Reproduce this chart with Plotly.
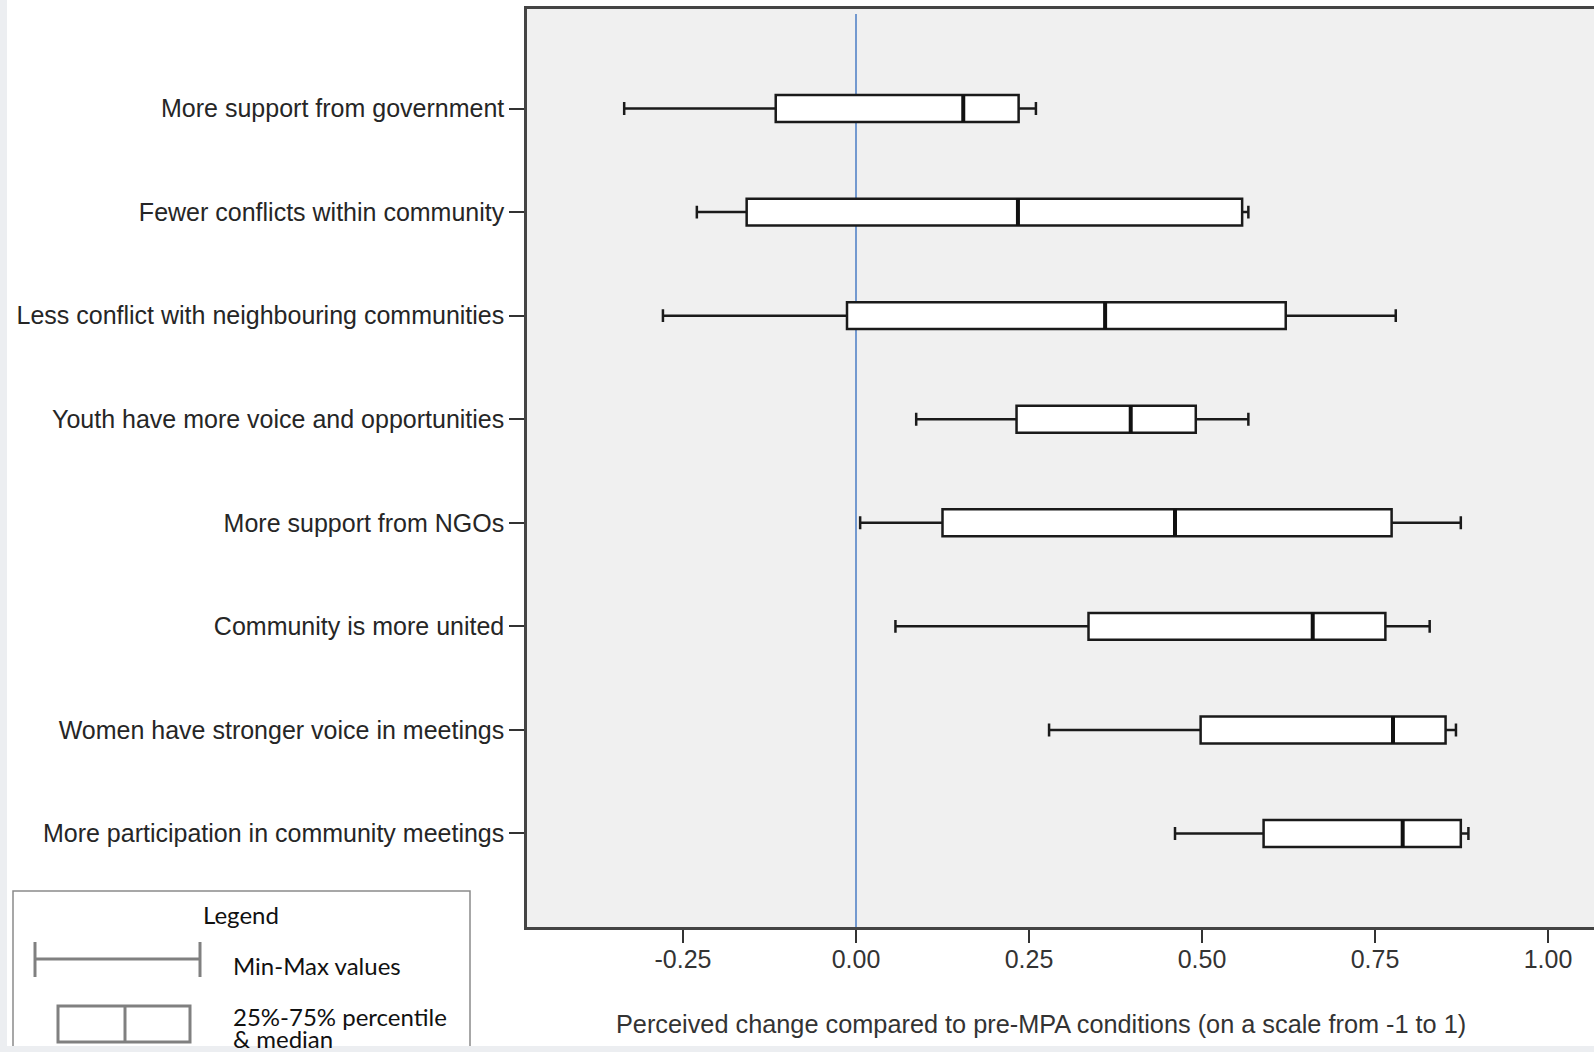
import plotly.graph_objects as go

# ---------------- data ----------------
categories = [
    "More support from government",
    "Fewer conflicts within community",
    "Less conflict with neighbouring communities",
    "Youth have more voice and opportunities",
    "More support from NGOs",
    "Community is more united",
    "Women have stronger voice in meetings",
    "More participation in community meetings",
]
mins    = [-0.335, -0.230, -0.279, 0.087, 0.006, 0.057, 0.279, 0.461]
q1s     = [-0.116, -0.158, -0.013, 0.232, 0.125, 0.336, 0.498, 0.589]
medians = [0.155, 0.234, 0.360, 0.397, 0.461, 0.660, 0.776, 0.790]
q3s     = [0.235, 0.558, 0.621, 0.491, 0.774, 0.765, 0.852, 0.874]
maxs    = [0.260, 0.567, 0.780, 0.567, 0.874, 0.829, 0.867, 0.885]
x_ticks = [-0.25, 0.0, 0.25, 0.5, 0.75, 1.0]
x_tick_labels = ["-0.25", "0.00", "0.25", "0.50", "0.75", "1.00"]

# ---------------- layout geometry ----------------
W, H = 1594, 1052
ML, MR, MT, MB = 527, 0, 9, 125
PW, PH = W - ML - MR, H - MT - MB
BOX_W = 0.26

def px(x):  # pixel x -> paper x
    return (x - ML) / PW

def py(y):  # pixel y -> paper y
    return (H - MB - y) / PH

pos = list(range(len(categories)))

fig = go.Figure()

fig.add_trace(go.Box(
    y=pos,
    q1=q1s, median=medians, q3=q3s,
    lowerfence=mins, upperfence=maxs,
    orientation="h",
    width=BOX_W,
    whiskerwidth=0.48,
    fillcolor="white",
    line=dict(color="#1a1a1a", width=2.5),
    boxpoints=False,
    showlegend=False,
    hoverinfo="skip",
))

# thicker median marks
mx, my = [], []
for p, m in zip(pos, medians):
    mx += [m, m, None]
    my += [p - BOX_W / 2, p + BOX_W / 2, None]
fig.add_trace(go.Scatter(
    x=mx, y=my, mode="lines",
    line=dict(color="#111111", width=4),
    showlegend=False, hoverinfo="skip",
))

# reference line at zero
fig.add_shape(type="line", xref="x", yref="paper", x0=0, x1=0, y0=0, y1=py(14),
              line=dict(color="#4a7cc4", width=1.5), layer="below")

font_main = "Liberation Sans, Arial, sans-serif"

fig.update_layout(
    width=W, height=H,
    margin=dict(l=ML, r=MR, t=MT, b=MB, pad=0),
    paper_bgcolor="white",
    plot_bgcolor="#f0f0f0",
    showlegend=False,
    xaxis=dict(
        range=[(ML - 856) / 692, (W - 856) / 692],
        tickvals=x_ticks, ticktext=x_tick_labels,
        ticks="outside", ticklen=13, tickwidth=2, tickcolor="#333333",
        showline=True, linecolor="#444444", linewidth=2.5, mirror=True,
        showgrid=False, zeroline=False,
        tickfont=dict(family=font_main, size=25, color="#333333"),
        ticklabelstandoff=-5,
    ),
    yaxis=dict(
        range=[7.903, -0.961],
        tickvals=pos, ticktext=categories,
        ticks="outside", ticklen=15, tickwidth=2, tickcolor="#333333",
        showline=True, linecolor="#444444", linewidth=2.5,
        showgrid=False, zeroline=False,
        tickfont=dict(family=font_main, size=25, color="#262626"),
        ticklabelstandoff=0,
    ),
)

# x-axis title as annotation
fig.add_annotation(
    text="Perceived change compared to pre-MPA conditions (on a scale from -1 to 1)",
    xref="paper", yref="paper", x=px(1041), y=py(1024),
    xanchor="center", yanchor="middle", showarrow=False,
    font=dict(family=font_main, size=25.3, color="#333333"),
)

# ---------------- custom legend box ----------------
gray = "#808080"
fig.add_shape(type="rect", xref="paper", yref="paper",
              x0=px(13), x1=px(470), y0=py(1060), y1=py(891),
              line=dict(color="#8a8a8a", width=1.5), fillcolor="white")
# min-max symbol
fig.add_shape(type="line", xref="paper", yref="paper",
              x0=px(35), x1=px(200), y0=py(959), y1=py(959),
              line=dict(color=gray, width=3))
for cx in (35, 200):
    fig.add_shape(type="line", xref="paper", yref="paper",
                  x0=px(cx), x1=px(cx), y0=py(942), y1=py(977),
                  line=dict(color=gray, width=3))
# box symbol
fig.add_shape(type="rect", xref="paper", yref="paper",
              x0=px(58), x1=px(190), y0=py(1042), y1=py(1006),
              line=dict(color=gray, width=3), fillcolor="white")
fig.add_shape(type="line", xref="paper", yref="paper",
              x0=px(125), x1=px(125), y0=py(1042), y1=py(1006),
              line=dict(color=gray, width=3))

leg_font = dict(family="Lato, Carlito, sans-serif", size=24, color="#111111")
for txt, x, y, anchor in [
    ("Legend", 241, 914, "center"),
    ("Min-Max values", 231, 965, "left"),
    ("25%-75% percentile", 231, 1016, "left"),
    ("&amp; median", 231, 1038, "left"),
]:
    fig.add_annotation(text=txt, xref="paper", yref="paper", x=px(x), y=py(y),
                       xanchor=anchor, yanchor="middle", showarrow=False, font=leg_font)

# faint screenshot border strips
fig.add_shape(type="rect", xref="paper", yref="paper", x0=px(0), x1=px(7), y0=py(H), y1=py(0),
              line=dict(width=0), fillcolor="#eceef1", layer="below")
fig.add_shape(type="rect", xref="paper", yref="paper", x0=px(0), x1=px(W), y0=py(H), y1=py(1046),
              line=dict(width=0), fillcolor="#eceef1", layer="above")

fig.write_html(
    "out.html",
    config={"displayModeBar": False},
    post_script="document.body.style.margin='0';document.body.style.overflow='hidden';",
)
